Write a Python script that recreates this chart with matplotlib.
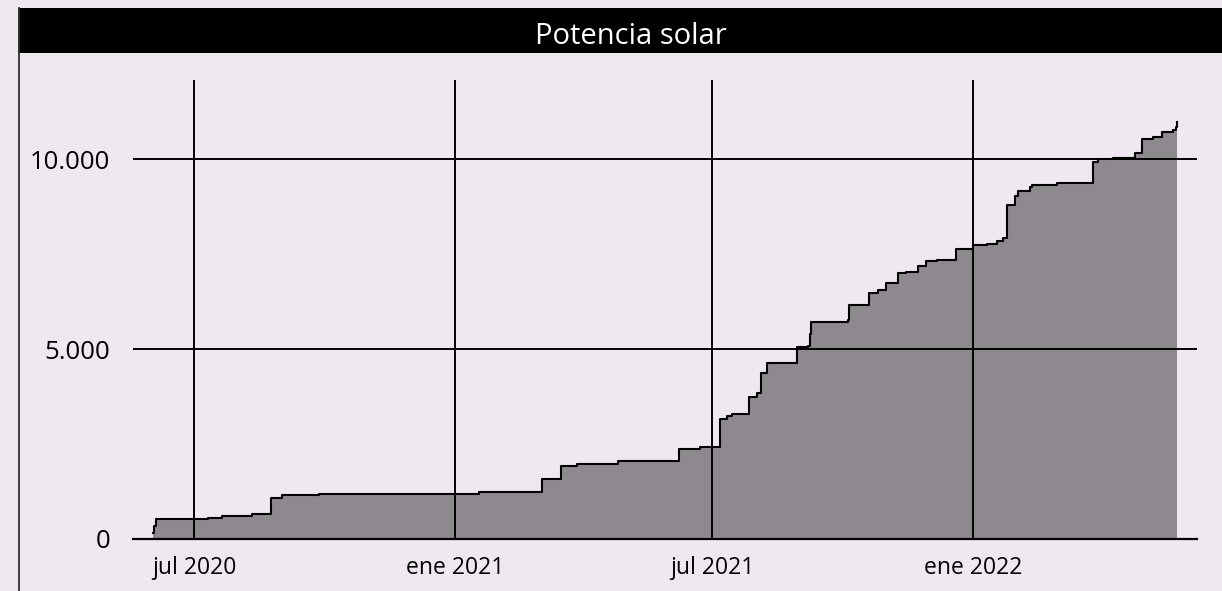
import matplotlib
matplotlib.use("Agg")
import matplotlib.pyplot as plt
import matplotlib.dates as mdates
import numpy as np
from matplotlib.patches import Rectangle
from matplotlib.lines import Line2D

# Cumulative installed solar power (step changes)
step_dates = [
    "2020-06-02", "2020-06-03", "2020-06-04", "2020-07-11", "2020-07-21",
    "2020-08-11", "2020-08-24", "2020-09-01", "2020-09-27", "2021-01-18",
    "2021-03-03", "2021-03-17", "2021-03-28", "2021-04-26", "2021-06-08",
    "2021-06-23", "2021-07-07", "2021-07-12", "2021-07-15", "2021-07-27",
    "2021-08-02", "2021-08-05", "2021-08-09", "2021-08-30", "2021-09-07",
    "2021-09-08", "2021-09-09", "2021-10-05", "2021-10-06", "2021-10-20",
    "2021-10-26", "2021-11-01", "2021-11-09", "2021-11-15", "2021-11-23",
    "2021-11-29", "2021-12-07", "2021-12-20", "2022-01-01", "2022-01-11",
    "2022-01-18", "2022-01-22", "2022-01-25", "2022-01-31", "2022-02-02",
    "2022-02-10", "2022-02-12", "2022-03-01", "2022-03-27", "2022-03-30",
    "2022-04-10", "2022-04-25", "2022-04-30", "2022-05-08", "2022-05-14",
    "2022-05-22", "2022-05-24", "2022-05-25",
]
step_values = [
    150, 350, 520, 560, 597,
    650, 1087, 1166, 1192, 1245,
    1571, 1921, 1965, 2060, 2360,
    2430, 3150, 3245, 3290, 3730,
    3834, 4360, 4623, 5061, 5087,
    5400, 5718, 5763, 6158, 6466,
    6553, 6745, 7008, 7034, 7192,
    7324, 7342, 7623, 7737, 7763,
    7850, 7930, 8790, 9026, 9166,
    9255, 9316, 9360, 9929, 9992,
    10018, 10150, 10526, 10587, 10703,
    10763, 10850, 10982,
]

tick_dates = ["2020-07-01", "2021-01-01", "2021-07-01", "2022-01-01"]
tick_labels = ["jul 2020", "ene 2021", "jul 2021", "ene 2022"]
y_ticks = [0, 5000, 10000]
y_labels = ["0", "5.000", "10.000"]
title = "Potencia solar"

BG = "#EFE8F0"
FILL = "#8E898F"
FONT = ["Open Sans", "DejaVu Sans"]

W, H = 1222, 591
fig = plt.figure(figsize=(W / 100, H / 100), dpi=100, facecolor=BG)

# Header band and left frame line
fig.patches.append(Rectangle((18 / W, (H - 53) / H), (W - 18) / W, 45 / H,
                             transform=fig.transFigure, facecolor="black",
                             edgecolor="none"))
fig.lines.append(Line2D([19 / W, 19 / W], [0, (H - 8) / H],
                        transform=fig.transFigure, color="#333333", lw=1.3))
fig.text(631 / W, (H - 43.5) / H, title, color="white", fontsize=21,
         ha="center", va="baseline", family=FONT)

ax = fig.add_axes([133 / W, (H - 539) / H, (1197 - 133) / W, (539 - 80) / H])
ax.set_facecolor(BG)

x = mdates.date2num(np.array(step_dates, dtype="datetime64[D]"))
y = np.array(step_values, dtype=float)

ax.fill_between(x, y, 0, step="post", color=FILL, lw=0, zorder=1)
ax.plot(x, y, drawstyle="steps-post", color="black", lw=1.5, zorder=3)

xmin = mdates.date2num(np.datetime64("2020-05-19"))
xmax = mdates.date2num(np.datetime64("2022-06-08"))
ax.set_xlim(xmin, xmax)
ax.set_ylim(0, 12080)

ax.set_xticks(mdates.date2num(np.array(tick_dates, dtype="datetime64[D]")))
ax.set_xticklabels(tick_labels, family=FONT, fontsize=16.5)
ax.set_yticks(y_ticks)
ax.set_yticklabels(y_labels, family=FONT, fontsize=18.5)
ax.tick_params(axis="both", length=0, colors="black")
ax.tick_params(axis="x", pad=12)
ax.tick_params(axis="y", pad=16.5)

ax.set_axisbelow(False)
ax.grid(True, color="black", lw=1.4)

for side in ("top", "right", "left"):
    ax.spines[side].set_visible(False)
ax.spines["bottom"].set_color("black")
ax.spines["bottom"].set_linewidth(1.6)
ax.spines["bottom"].set_zorder(4)

fig.savefig("out.png", dpi=100, facecolor=BG)
